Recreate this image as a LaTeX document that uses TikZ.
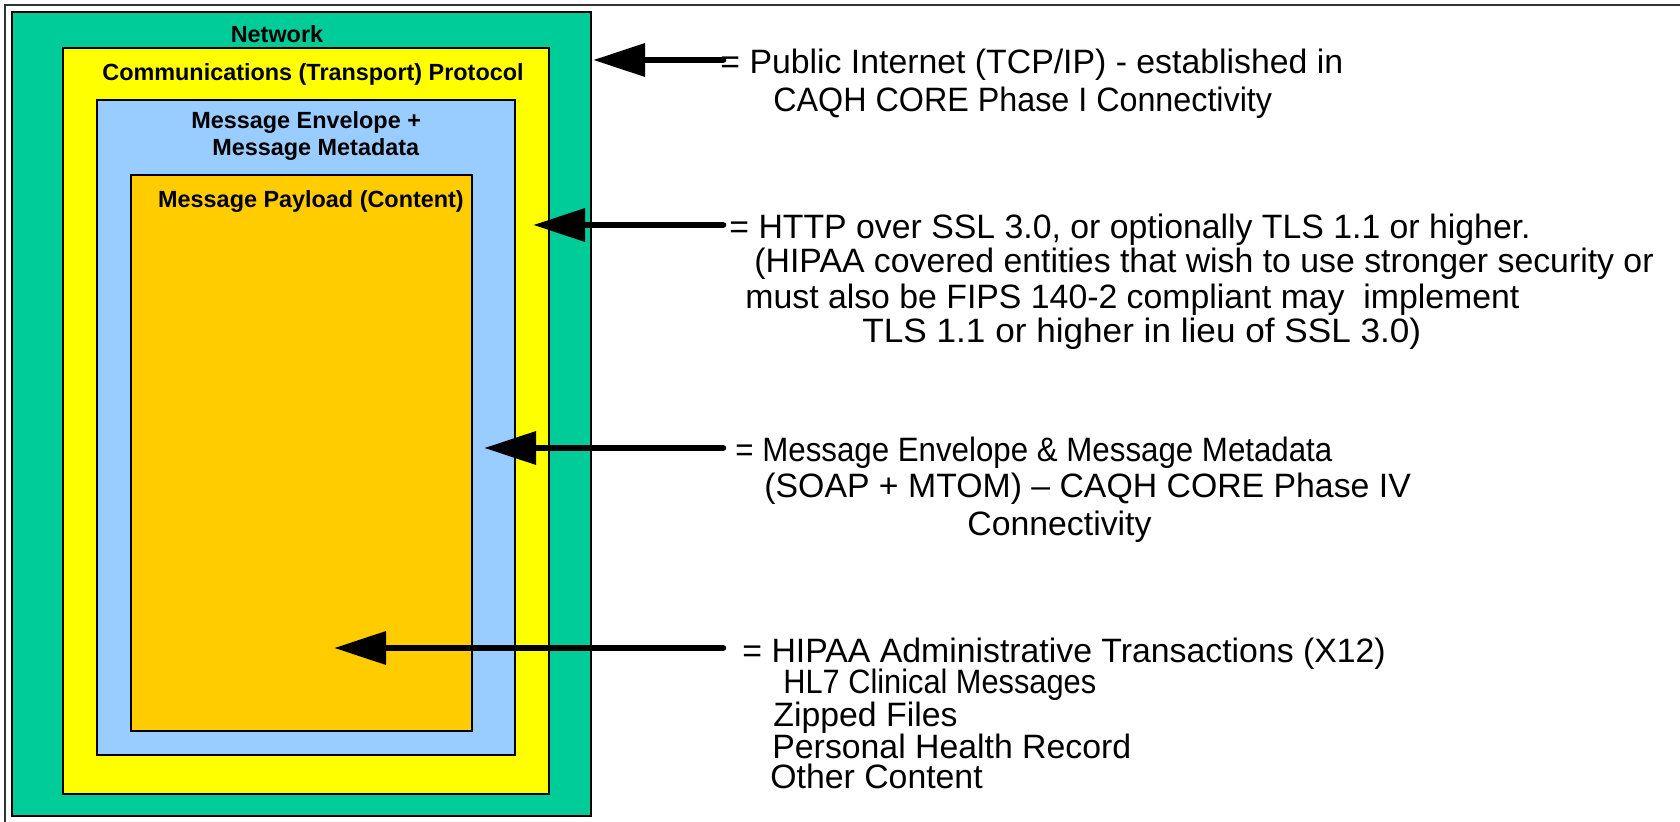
\documentclass[tikz,border=0pt]{standalone}
\usepackage{fontspec}
\setmainfont{Liberation Sans}
\usetikzlibrary{arrows.meta,fit}

\definecolor{netgreen}{RGB}{0,204,153}
\definecolor{protoyellow}{RGB}{255,255,0}
\definecolor{envblue}{RGB}{153,204,255}
\definecolor{loadorange}{RGB}{255,204,0}

\newcommand{\squeezed}[2]{\scalebox{#1}[1]{#2}}

\tikzset{
	layer/.style={draw=black,line width=1pt,inner sep=0pt},
	title/.style={font=\bfseries\fontsize{11.7}{13}\selectfont,anchor=base,inner sep=0pt},
	note/.style={font=\fontsize{16.9}{20}\selectfont,anchor=base west,inner sep=0pt},
	pointer/.style={line width=3.3pt,line cap=round,-{Triangle[length=26pt,width=16pt]}}
}

\begin{document}
\begin{tikzpicture}[x=0.5pt,y=-0.5pt]
	\useasboundingbox (0,0) rectangle (1680,822);
	% frame
	\draw[line width=1pt,black!80] (5,822) -- (5,5) -- (1680,5);

	% nested layers
	\node[layer,fill=netgreen,fit={(12,12) (591,816)}] (network) {};
	\node[layer,fill=protoyellow,fit={(63,48) (549,794)}] (protocol) {};
	\node[layer,fill=envblue,fit={(97,100) (515,755)}] (envelope) {};
	\node[layer,fill=loadorange,fit={(131,175) (472,731)}] (payload) {};

	\node[title] (networklbl) at (277,43) {Network};
	\node[title] (protocollbl) at (313,81) {Communications (Transport) Protocol};
	\node[title,anchor=base west] (envelopelbl) at (191,129) {Message Envelope +};
	\node[title,anchor=base west] (metadatalbl) at (212,156) {Message Metadata};
	\node[title] (payloadlbl) at (311,208) {Message Payload (Content)};

	% notes
	\begin{scope}[every node/.style={note}]
		\node (pub1) at (720,74) {= Public Internet (TCP/IP) - established in};
		\node (pub2) at (773,112) {\squeezed{0.955}{CAQH CORE Phase I Connectivity}};

		\node (http1) at (729,239) {= HTTP over SSL 3.0, or optionally TLS 1.1 or higher.};
		\node (http2) at (754,273) {(HIPAA covered entities that wish to use stronger security or};
		\node (http3) at (745,309) {must also be FIPS 140-2 compliant may\ \ implement};
		\node (http4) at (862,343) {\squeezed{1.04}{TLS 1.1 or higher in lieu of SSL 3.0)}};

		\node (soap1) at (735,462) {\squeezed{0.925}{= Message Envelope \& Message Metadata}};
		\node (soap2) at (764,498) {(SOAP + MTOM) -- CAQH CORE Phase IV};
		\node (soap3) at (967,536) {Connectivity};

		\node (hipaa1) at (742,662) {= HIPAA Administrative Transactions (X12)};
		\node (hipaa2) at (783,693) {\squeezed{0.91}{HL7 Clinical Messages}};
		\node (hipaa3) at (773,726) {Zipped Files};
		\node (hipaa4) at (772,758) {Personal Health Record};
		\node (hipaa5) at (770,788) {Other Content};
	\end{scope}

	% pointers
	\coordinate (tail1) at (723,60);
	\coordinate (tail2) at (723,225);
	\coordinate (tail3) at (723,448);
	\coordinate (tail4) at (723,648);
	\coordinate (tip1) at (593,60);
	\coordinate (tip2) at (533,225);
	\coordinate (tip3) at (484,448);
	\coordinate (tip4) at (334,648);
	\draw[pointer] (tail1) -- (tip1);
	\draw[pointer] (tail2) -- (tip2);
	\draw[pointer] (tail3) -- (tip3);
	\draw[pointer] (tail4) -- (tip4);
\end{tikzpicture}
\end{document}
